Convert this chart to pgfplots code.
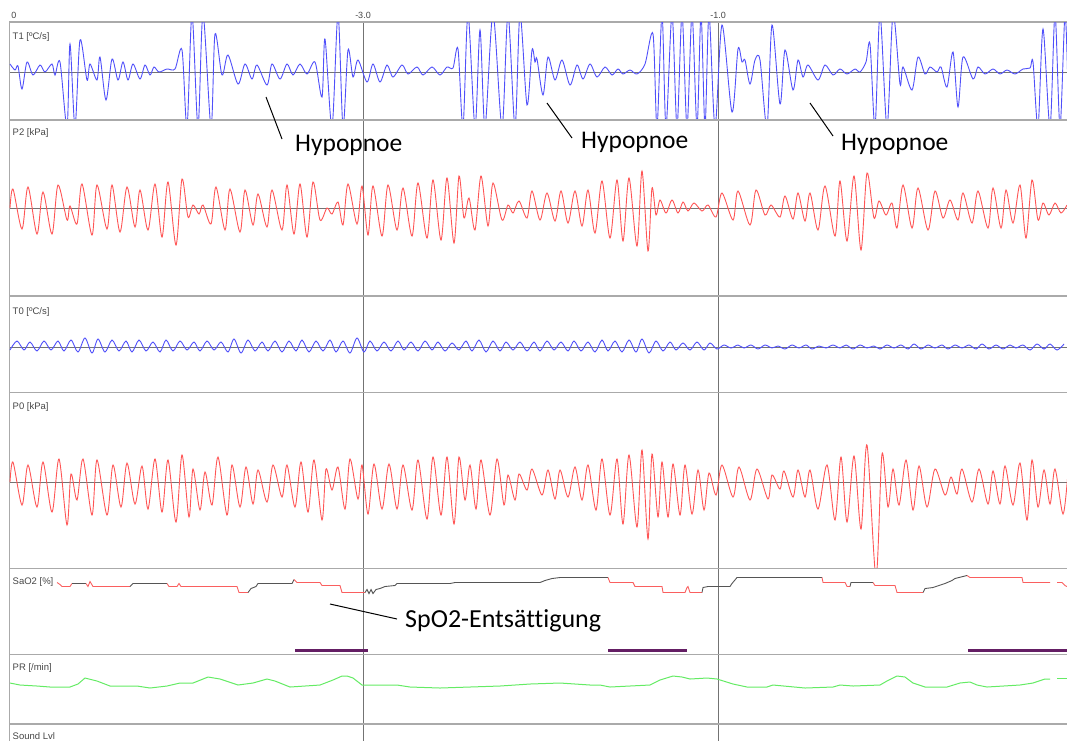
\documentclass[border=0pt]{standalone}
\usepackage{fontspec}
\setmainfont{Liberation Sans}
\newfontfamily\calib[Ligatures={NoCommon}]{Carlito}
\usepackage{pgfplots}
\pgfplotsset{compat=1.18}
\definecolor{sigblue}{RGB}{80,80,250}
\definecolor{sigred}{RGB}{255,85,85}
\definecolor{siggreen}{RGB}{100,235,100}
\definecolor{satgray}{RGB}{85,85,85}
\definecolor{satred}{RGB}{250,95,95}
\definecolor{evpurple}{RGB}{100,30,100}
\definecolor{sep}{RGB}{170,170,170}
\definecolor{gridc}{RGB}{115,115,115}
\definecolor{lab}{RGB}{70,70,70}
\pgfplotsset{
 panel/.style={scale only axis, width=1062.5pt, xmin=9.5, xmax=1072, anchor=north west,
   axis line style={sep, line width=1.6pt}, xtick={363,718}, xticklabels={,,}, xmajorgrids,
   major grid style={gridc, line width=0.7pt}, major tick length=0pt, ytick=\empty},
 wave/.style={ytick={0}, yticklabels={,,}, ymajorgrids},
}
\tikzset{plab/.style={anchor=north west, inner sep=0pt, font=\fontsize{9.5}{10}\selectfont, text=lab}}
\begin{document}
\begin{tikzpicture}
\useasboundingbox (0pt,0pt) rectangle (1067pt,-740pt);
% ---------------- T1
\begin{axis}[panel, wave, at={(9.5pt,-22pt)}, height=97.5pt, ymin=-47.5, ymax=50,
  xticklabel pos=upper, xticklabels={-3.0,-1.0}, extra x ticks={14}, extra x tick labels={0},
  extra x tick style={grid=none}, xticklabel style={font=\fontsize{9}{9}\selectfont, text=lab}]
\node[plab] at (rel axis cs:0,1) [xshift=3pt, yshift=-10pt] {T1 [ºC/s]};
\addplot[sigblue, line width=0.9pt, smooth, tension=0.5] coordinates {
(10,8) (15,2) (18,6) (22,-17) (27,10) (33,-3) (40,7) (45,0) (52,8) (55,-3) (60,10) (67,-55) (70,28) (75,-55) (80,32) (87,-8) (90,8) (97,-8) (100,15) (106,-28) (112,13) (118,-8) (123,10) (128,-8) (133,8) (140,-7) (145,7) (150,-3) (154,5) (159,0) (167,3) (175,3) (182,22) (187,-55) (192,58) (198,-55) (203,58) (211,-55) (215,38) (222,-3) (228,17) (238,-12) (245,8) (252,-7) (257,7) (267,-13) (272,8) (280,-7) (287,8) (293,-3) (300,8) (307,-2) (315,10) (322,-25) (325,33) (332,-55) (338,58) (343,-55) (348,22) (353,-5) (358,12)
(367,-10) (373,8) (380,-10) (387,7) (393,-5) (402,7) (408,-2) (417,5) (423,-3) (432,5) (440,-3) (447,5) (453,4) (458,23) (463,-55) (468,58) (475,-55) (480,42) (485,-55) (493,58) (502,-55) (508,58) (515,-55) (520,58) (527,-33) (532,22) (535,10) (537,13) (543,-23) (548,15) (555,-8) (562,12) (570,-13) (577,7) (583,-7) (590,8) (597,-5) (605,5) (612,-3) (618,3) (623,-2) (630,2) (637,-2) (645,8) (653,38) (657,-55) (662,58) (666,-55) (672,58) (677,-55) (682,58) (687,-55) (692,58) (697,-55) (701,58) (705,-55) (709,58) (715,-55) (722,47) (732,-40) (738,23) (742,10) (745,12) (750,-12) (755,12) (760,12) (767,-55) (772,47) (780,-32) (785,22) (793,-18) (798,12) (803,-5) (808,7) (818,-8) (825,7) (833,-3) (840,3) (847,-2) (855,3) (860,0) (866,10) (870,28) (875,-55) (880,58) (887,-55) (893,58) (900,-12) (903,5) (912,-18) (918,15) (925,-2) (930,5) (937,0) (941,5) (947,-15) (953,20) (958,-35) (963,15) (973,-7) (978,5) (985,-2) (993,3) (1000,-2) (1007,2) (1015,-2) (1023,3) (1030,4) (1033,10) (1038,-55) (1043,43) (1050,-55) (1055,58) (1060,-55) (1065,58) (1068,-20)};
\end{axis}
% ---------------- P2
\begin{axis}[panel, wave, at={(9.5pt,-120pt)}, height=176pt, ymin=-88, ymax=88]
\node[plab] at (rel axis cs:0,1) [xshift=3pt, yshift=-8pt] {P2 [kPa]};
\addplot[sigred, line width=0.9pt, smooth, tension=0.5] coordinates {
(10,0) (13,19) (22,-21) (28,21) (37,-26) (43,16) (52,-26) (58,23) (67,-12) (70,2) (77,-16) (82,24) (92,-27) (97,23) (107,-21) (112,23) (120,-24) (127,21) (135,-19) (140,18) (148,-22) (155,24) (162,-29) (168,26) (176,-37) (182,29) (188,-9) (193,3) (199,-6) (203,3) (211,-16) (216,21) (225,-22) (230,19) (240,-24) (245,18) (253,-17) (258,14) (267,-19) (272,18) (282,-22) (287,23) (294,-26) (300,24) (307,-29) (313,26) (320,-12) (327,0) (332,-6) (338,6) (343,-17) (348,24) (357,-16)
(362,22) (368,-27) (373,22) (382,-28) (388,23) (397,-22) (403,20) (412,-28) (418,25) (427,-30) (433,28) (441,-32) (447,30) (454,-35) (459,32) (464,-10) (469,10) (475,-22) (481,32) (488,-18) (493,25) (502,-12) (508,3) (513,-5) (519,7) (527,-10) (532,17) (540,-12) (547,15) (555,-13) (561,17) (568,-15) (575,17) (582,-18) (588,18) (595,-25) (602,27) (610,-30) (617,28) (623,-33) (629,30) (637,-38) (642,37) (648,-43) (652,20) (656,-7) (660,8) (666,-5) (672,8) (678,-5) (683,6) (688,-3) (694,5) (702,-3) (708,3)
(716,-9) (722,15) (733,-12) (738,17) (750,-17) (756,18) (765,-7) (771,3) (780,-9) (785,12) (793,-11) (798,15) (805,-13) (810,15) (818,-22) (825,22) (835,-28) (840,27) (847,-33) (854,32) (861,-42) (867,35) (874,-10) (879,7) (886,-7) (892,5) (897,-20) (903,23) (912,-20) (918,20) (928,-22) (935,17) (943,-10) (950,8) (958,-12) (963,15) (972,-15) (978,17) (988,-20) (993,20) (1001,-20) (1006,18) (1013,-15) (1020,23) (1026,-30) (1032,28) (1038,-12) (1043,5) (1049,-7) (1055,5) (1061,-5) (1067,3)};
\end{axis}
% ---------------- T0
\begin{axis}[panel, wave, at={(9.5pt,-296pt)}, height=96.5pt, ymin=-45.5, ymax=51]
\node[plab] at (rel axis cs:0,1) [xshift=3pt, yshift=-11pt] {T0 [ºC/s]};
\addplot[sigblue, line width=0.9pt, smooth, tension=0.5] coordinates {
(10,-3) (17,6) (24,-3) (30,5) (37,-4) (44,6) (51,-3) (58,6) (64,-4) (71,7) (78,-5) (85,9) (92,-6) (98,8) (105,-5) (112,7) (119,-4) (126,6) (132,-5) (139,7) (146,-4) (153,5) (160,-5) (166,7) (173,-4) (180,6) (187,-3) (194,5) (200,-4) (207,6) (214,-3) (221,5) (228,-5) (234,8) (241,-6) (248,7) (255,-4) (262,5) (268,-4) (275,6) (282,-5) (289,6) (296,-4) (302,7) (309,-5) (316,6) (323,-4) (330,7) (336,-5) (343,6) (350,-6) (357,9) (364,-5) (370,6) (377,-4) (384,5) (391,-4) (398,6) (404,-3) (411,5) (418,-4) (425,6) (432,-3) (438,5) (445,-4) (452,4) (459,-3) (466,6) (472,-4) (479,7) (486,-5) (493,6) (500,-4) (506,5) (513,-3) (520,5) (527,-4) (534,5) (540,-4) (547,6) (554,-3) (561,5) (568,-4) (574,6) (581,-4) (588,5) (595,-5) (602,7) (608,-4) (615,6) (622,-5) (629,7) (636,-5) (642,8) (649,-6) (656,6) (663,-4) (670,5) (676,-3) (683,4) (690,-3) (697,5) (704,-3) (710,4) (717,-2) (724,2) (731,-1) (738,2) (744,-1) (751,2) (758,-2) (765,2) (772,-1) (778,1) (785,-2) (792,2) (799,-1) (806,2) (812,-2) (819,1) (826,-1) (833,2) (840,-1) (846,2) (853,-2) (860,2) (867,-1) (874,1) (880,-2) (887,2) (894,-1) (901,2) (908,-2) (914,3) (921,-2) (928,2) (935,-1) (942,2) (948,-2) (955,2) (962,-1) (969,2) (976,-2) (982,3) (989,-2) (996,2) (1003,-2) (1010,2) (1016,-1) (1023,2) (1030,-3) (1037,3) (1044,-2) (1050,3) (1057,-3) (1064,3)};
\end{axis}
% ---------------- P0
\begin{axis}[panel, wave, at={(9.5pt,-392.5pt)}, height=176pt, ymin=-86.5, ymax=89.5]
\node[plab] at (rel axis cs:0,1) [xshift=3pt, yshift=-9.5pt] {P0 [kPa]};
\addplot[sigred, line width=0.9pt, smooth, tension=0.5] coordinates {
(10,0) (13,20) (22,-23) (28,17) (37,-25) (43,20) (52,-30) (59,23) (67,-43) (71,8) (77,-18) (83,23) (92,-33) (97,22) (107,-33) (113,17) (121,-25) (127,19) (135,-22) (142,16) (148,-27) (155,23) (162,-30) (168,22) (176,-40) (182,27) (189,-35) (193,13) (200,-28) (205,10) (212,-23) (218,25) (227,-33) (232,17) (240,-25) (246,15) (253,-22) (258,12) (267,-20) (273,17) (282,-15) (287,17) (295,-25) (301,20) (308,-30) (314,22) (322,-38) (326,13) (332,-8) (338,15) (345,-27) (350,23) (358,-17)
(362,17) (368,-32) (374,18) (382,-27) (389,18) (397,-27) (403,17) (412,-28) (418,22) (427,-37) (433,25) (441,-33) (447,25) (454,-42) (459,25) (465,-18) (470,17) (476,-27) (481,22) (490,-33) (497,23) (504,-23) (508,7) (515,-18) (519,8) (527,-8) (532,13) (542,-13) (548,12) (555,-17) (560,12) (568,-15) (575,15) (582,-18) (588,17) (596,-28) (602,23) (610,-33) (617,23) (623,-42) (629,27) (637,-45) (642,32) (648,-57) (652,28) (658,-35) (662,20) (668,-35) (673,18) (680,-33) (685,17) (692,-32) (698,12) (704,-28) (709,9)
(716,-13) (722,17) (733,-15) (739,15) (750,-18) (757,13) (768,-17) (772,7) (780,-7) (784,11) (793,-15) (798,12) (805,-15) (810,12) (818,-27) (827,17) (835,-38) (841,25) (847,-40) (854,26) (861,-47) (867,37) (876,-95) (882,28) (888,-25) (893,13) (899,-23) (906,22) (913,-28) (919,16) (927,-25) (935,13) (945,-13) (951,5) (957,-12) (962,13) (972,-20) (979,13) (988,-22) (993,11) (1000,-22) (1005,16) (1013,-23) (1020,19) (1027,-38) (1032,22) (1038,-25) (1044,12) (1050,-22) (1055,13) (1063,-32) (1068,10)};
\end{axis}
% ---------------- SaO2
\begin{axis}[panel, at={(9.5pt,-568.5pt)}, height=86pt, ymin=0, ymax=86]
\node[plab] at (rel axis cs:0,1) [xshift=3pt, yshift=-9pt] {SaO2 [\%]};
\addplot[satred, line width=0.9pt] coordinates {(57,72) (60,70) (62,68) (70,68) (72,71)};
\addplot[satgray, line width=0.9pt] coordinates {(72,71) (86,71)};
\addplot[satred, line width=0.9pt] coordinates {(86,71) (88,68) (90,73) (93,68) (130,68)};
\addplot[satgray, line width=0.9pt] coordinates {(130,68) (133,71) (167,71)};
\addplot[satred, line width=0.9pt] coordinates {(167,71) (169,68) (177,68) (179,71) (181,68) (237,68) (239,62) (248,62)};
\addplot[satgray, line width=0.9pt] coordinates {(248,62) (251,66) (256,68) (258,71) (292,71) (294,75)};
\addplot[satred, line width=0.9pt] coordinates {(294,75) (297,72) (320,72) (322,69) (340,69) (342,62) (365,62)};
\addplot[satgray, line width=0.9pt] coordinates {(365,62) (367,65) (369,61) (371,65) (373,61) (376,65) (380,66) (385,68) (395,69) (397,71) (450,71) (455,72) (540,72) (545,74) (552,76) (560,77) (608,77)};
\addplot[satred, line width=0.9pt] coordinates {(608,77) (610,72) (633,72) (635,68) (662,68) (663,62) (685,62) (687,67) (688,68) (690,62) (702,62)};
\addplot[satgray, line width=0.9pt] coordinates {(702,62) (703,67) (708,68) (730,68) (732,71) (737,77) (822,77)};
\addplot[satred, line width=0.9pt] coordinates {(822,77) (823,72) (845,72) (847,68) (850,68)};
\addplot[satgray, line width=0.9pt] coordinates {(850,68) (851,72) (873,72)};
\addplot[satred, line width=0.9pt] coordinates {(873,72) (875,69) (895,69) (897,62) (923,62)};
\addplot[satgray, line width=0.9pt] coordinates {(923,62) (925,66) (933,67) (945,71) (952,74) (955,76) (967,79)};
\addplot[satred, line width=0.9pt] coordinates {(967,79) (970,77) (1022,77) (1023,72) (1050,72)};
\addplot[satred, line width=0.9pt] coordinates {(1057,72) (1062,72) (1065,69) (1067,68)};
\addplot[evpurple, line width=3.5pt] coordinates {(295,4) (368,4)};
\addplot[evpurple, line width=3.5pt] coordinates {(608,4) (687,4)};
\addplot[evpurple, line width=3.5pt] coordinates {(968,4) (1072,4)};
\end{axis}
% ---------------- PR
\begin{axis}[panel, at={(9.5pt,-654.5pt)}, height=69.5pt, ymin=0, ymax=69.5]
\node[plab] at (rel axis cs:0,1) [xshift=3pt, yshift=-8.5pt] {PR [/min]};
\addplot[siggreen, line width=1pt] coordinates {
(10,41) (20,39) (37,38) (50,37) (70,37) (78,40) (85,46) (97,43) (110,38) (137,38) (150,36) (167,38) (180,41) (193,41) (208,47) (220,45) (238,39) (253,41) (267,45) (275,43) (290,37) (320,39) (333,44) (342,48) (347,48) (353,46) (362,39) (397,39) (410,37) (440,36) (470,37) (500,38) (530,40) (560,41) (590,39) (600,39) (610,37) (650,39) (660,44) (673,48) (682,47) (690,45) (707,46) (717,45) (733,40) (747,37) (767,37) (773,39) (805,36) (833,37) (840,39) (853,38) (880,39) (887,43) (897,48) (905,47) (913,41) (925,37) (947,37) (960,41) (970,42) (977,39) (987,37) (1020,39) (1033,41) (1045,45) (1050,45)};
\addplot[siggreen, line width=1pt] coordinates {(1057,46) (1067,46)};
\end{axis}
% ---------------- Sound
\begin{axis}[panel, at={(9.5pt,-724pt)}, height=30pt, ymin=0, ymax=30]
\node[plab] at (rel axis cs:0,1) [xshift=3pt, yshift=-8pt] {Sound Lvl};
\end{axis}
% ---------------- annotations
\draw[black, line width=1pt] (266pt,-97pt) -- (282pt,-139pt);
\draw[black, line width=1pt] (547pt,-103pt) -- (572pt,-138pt);
\draw[black, line width=1pt] (810pt,-103pt) -- (833pt,-136pt);
\draw[black, line width=1pt] (330pt,-604pt) -- (397pt,-619pt);
\node[anchor=base west, inner sep=0pt, font=\calib\fontsize{25.5}{30}\selectfont] at (295pt,-151.5pt) {Hypopnoe};
\node[anchor=base west, inner sep=0pt, font=\calib\fontsize{25.5}{30}\selectfont] at (581pt,-148.5pt) {Hypopnoe};
\node[anchor=base west, inner sep=0pt, font=\calib\fontsize{25.5}{30}\selectfont] at (841pt,-150pt) {Hypopnoe};
\node[anchor=base west, inner sep=0pt, font=\calib\fontsize{26}{30}\selectfont] at (405pt,-627pt) {SpO2-Entsättigung};
\end{tikzpicture}
\end{document}
